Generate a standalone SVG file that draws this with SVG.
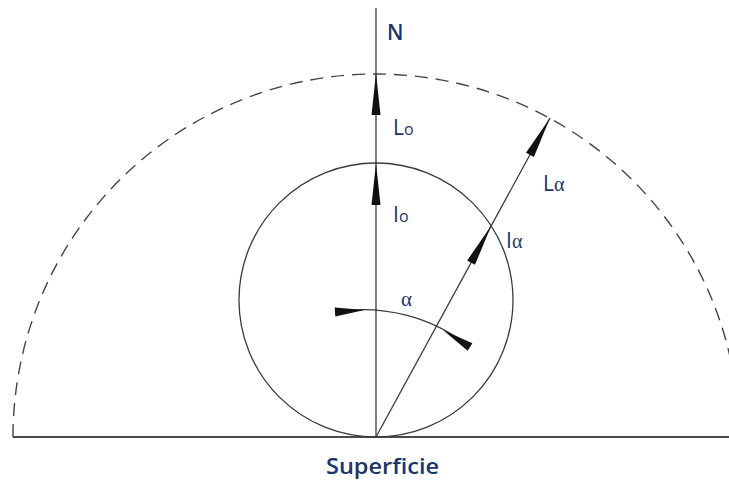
<svg xmlns="http://www.w3.org/2000/svg" width="729" height="485" viewBox="0 0 729 485">
<style>
.ln{fill:none;stroke:#3a3a3a;stroke-width:1.3}
.base{fill:none;stroke:#4a4a4a;stroke-width:2}
.dash{fill:none;stroke:#444;stroke-width:1.4;stroke-dasharray:13 8}
.ah{fill:#111;stroke:none}
.t{font-family:"Open Sans","Liberation Sans",sans-serif;fill:#1d3566;font-size:21px}
.g{font-family:"Liberation Serif",serif}
</style>
<rect width="729" height="485" fill="#fff"/>
<g id="connectors">
<path class="dash" d="M 13 437 A 363 363 0 0 1 739 437"/>
<line class="base" x1="13" y1="437" x2="729" y2="437"/>
<line class="ln" x1="376" y1="8" x2="376" y2="437"/>
<line class="ln" x1="376" y1="437" x2="550" y2="118"/>
<path class="ln" d="M 335 312 A 172 172 0 0 1 470 347"/>
<polygon class="ah" points="376,73 371.5,115 380.5,115"/>
<polygon class="ah" points="376,163 371.5,205 380.5,205"/>
<polygon class="ah" points="550,118 533.9,157.1 526,152.7"/>
<polygon class="ah" points="491.2,225.7 475,264.8 467.2,260.4"/>
<polygon class="ah" points="364.6,310 335.3,316.5 334.7,307.5"/>
<polygon class="ah" points="443.2,330.3 467.6,350.8 472.4,343.2"/>
</g>
<g id="circle"><circle class="ln" cx="376" cy="300" r="137"/></g>
<g id="labels">
<text class="t" x="387" y="40" font-size="21" font-weight="600">N</text>
<text class="t" x="393" y="135">L<tspan font-size="16">o</tspan></text>
<text class="t" x="393" y="222">I<tspan font-size="16">o</tspan></text>
<text class="t" x="543" y="191">L<tspan class="g" font-size="20">α</tspan></text>
<text class="t" x="506" y="248">I<tspan class="g" font-size="20">α</tspan></text>
<text class="t g" x="401" y="306" font-size="25">α</text>
<text class="t" x="326" y="474" font-size="25" font-weight="600" textLength="113" lengthAdjust="spacingAndGlyphs">Superficie</text>
</g>
</svg>
